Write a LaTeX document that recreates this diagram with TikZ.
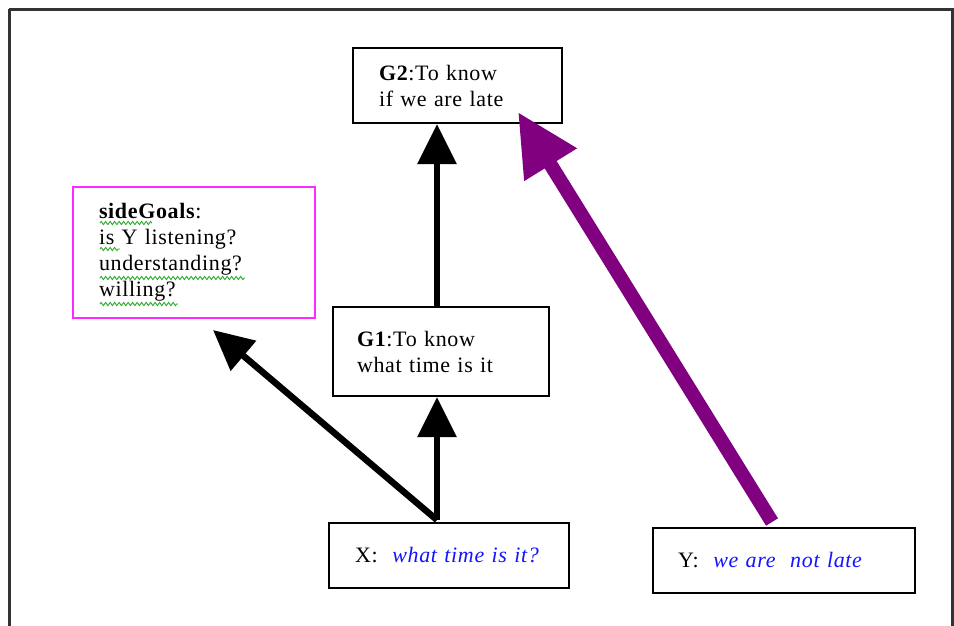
\documentclass[tikz,border=0pt]{standalone}
\usepackage{fontspec}
\setmainfont{Liberation Serif}[LetterSpace=3]
\usetikzlibrary{arrows.meta,decorations.pathmorphing}
\definecolor{vio}{RGB}{128,0,128}
\definecolor{mag}{RGB}{255,40,255}
\definecolor{txtblue}{RGB}{20,20,255}
\definecolor{squig}{RGB}{40,170,40}
\tikzset{
  box/.style={draw=black, line width=2.2pt, rectangle, align=left, inner ysep=0pt,
    font=\fontsize{22}{26}\selectfont},
  sidebox/.style={box, draw=mag},
  blkarrow/.style={draw=black, line width=6.5pt, -{Triangle[length=40pt,width=38pt]}},
  vioarrow/.style={draw=vio, line width=14pt, -{Triangle[length=62pt,width=58pt]}},
  squiggle/.style={draw=squig, line width=0.9pt, decorate,
    decoration={zigzag, amplitude=1.6pt, segment length=4.5pt}},
  frame/.style={draw=black!80, line width=3pt}
}
\begin{document}
\begin{tikzpicture}[x=1pt,y=-1pt]
\useasboundingbox (0,0) rectangle (954,625);
\draw[frame] (9,9) -- (952,9) -- (952,640) (9,9) -- (9,640);

\node[box, inner xsep=26pt, text width=157pt, minimum height=75pt] (G2) at (457.5,85.5)
  {\textbf{G2}:To know\\if we are late};
\node[box, inner xsep=24pt, text width=168pt, minimum height=89pt] (G1) at (441,351.5)
  {\textbf{G1}:To know\\what time is it};
\node[sidebox, inner xsep=26pt, text width=190pt, minimum height=131pt] (side) at (194,252.5)
  {\textbf{sideGoals}:\\is Y listening?\\understanding?\\willing?};
\node[box, inner xsep=26pt, text width=188pt, minimum height=65pt] (X) at (449,555.5)
  {X:\ \ \textcolor{txtblue}{\itshape what time is it?}};
\node[box, inner xsep=25pt, text width=212pt, minimum height=65pt] (Y) at (784,560.5)
  {Y:\ \ \textcolor{txtblue}{\itshape we are\ \ not late}};

\coordinate (xtop) at (437,520);
\coordinate (sidetip) at (213,330);
\coordinate (ytop) at (772,522);
\coordinate (g2tip) at (518,112);

\draw[blkarrow] (xtop) -- (xtop |- G1.south);
\draw[blkarrow] (xtop) -- (sidetip);
\draw[blkarrow] (xtop |- G1.north) -- (xtop |- G2.south);
\draw[vioarrow] (ytop) -- (g2tip);

\draw[squiggle] (100,223) -- (152,223);
\draw[squiggle] (100,249) -- (120,249);
\draw[squiggle] (100,278) -- (245,278);
\draw[squiggle] (100,304) -- (178,304);
\end{tikzpicture}
\end{document}
